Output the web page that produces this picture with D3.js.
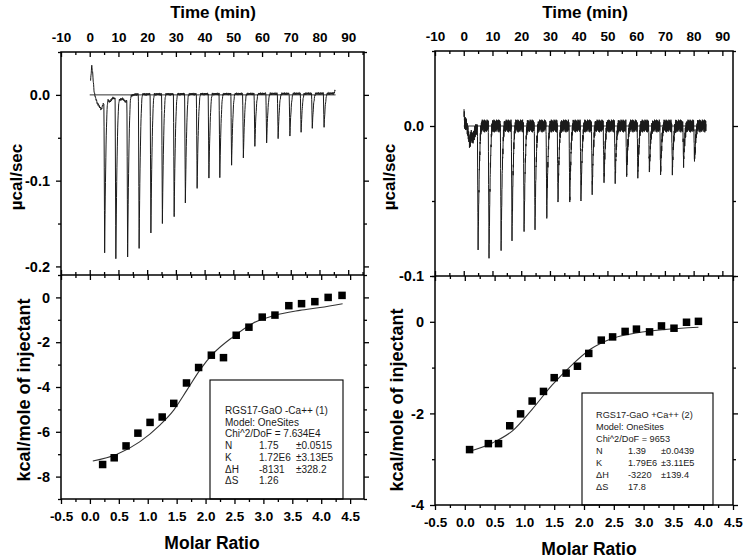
<!DOCTYPE html>
<html><head><meta charset="utf-8">
<script src="https://cdn.jsdelivr.net/npm/d3@7"></script>
<style>body{margin:0;background:#fff}svg{display:block}</style>
</head><body><svg id="c" width="745" height="558"></svg>
<script>
// ---------------- DATA ----------------
const timeTicks = [-10,0,10,20,30,40,50,60,70,80,90];
const timeLabels = ["-10","0","10","20","30","40","50","60","70","80","90"];
const timeMinor = [-5,5,15,25,35,45,55,65,75,85,95];
const molarTicks = [-0.5,0,0.5,1,1.5,2,2.5,3,3.5,4,4.5];
const molarLabels = ["-0.5","0.0","0.5","1.0","1.5","2.0","2.5","3.0","3.5","4.0","4.5"];
const molarMinor = [-0.25,0.25,0.75,1.25,1.75,2.25,2.75,3.25,3.75,4.25,4.75];

const rateTicksL = [0,-0.1,-0.2], rateLabelsL = ["0.0","-0.1","-0.2"], rateMinorL = [0.05,-0.05,-0.15];
const rateTicksR = [0,-0.1], rateLabelsR = ["0.0","-0.1"], rateMinorR = [0.05,-0.05];
const heatTicksL = [0,-2,-4,-6,-8], heatLabelsL = ["0","-2","-4","-6","-8"], heatMinorL = [1,-1,-3,-5,-7,-9];
const heatTicksR = [0,-2,-4], heatLabelsR = ["0","-2","-4"], heatMinorR = [1,-1,-3];

// injection peaks (time of minimum, min value µcal/sec)
const injTimesL = [5.2,9.1,13.2,17.2,21.3,25.3,29.4,33.3,37.4,41.5,45.3,49.4,53.5,57.5,61.6,65.6,69.7,73.6,77.5,81.6];
const peakL = [-0.184,-0.191,-0.189,-0.179,-0.161,-0.150,-0.142,-0.126,-0.109,-0.097,-0.0965,-0.082,-0.0735,-0.060,-0.056,-0.051,-0.048,-0.0436,-0.039,-0.0378];
const injTimesR = [5.0,8.8,13.0,16.8,21.0,24.8,28.9,32.8,36.9,40.8,44.7,48.8,52.7,56.7,60.6,64.6,68.5,72.6,76.5,80.3];
const peakR = [-0.0822,-0.0882,-0.0831,-0.076,-0.0704,-0.0682,-0.0616,-0.0507,-0.0507,-0.050,-0.0442,-0.0378,-0.0367,-0.0338,-0.0333,-0.0307,-0.0318,-0.030,-0.0253,-0.0236];

// baseline drift points [time, value]
const driftL = [[0.3,0.016],[0.7,0.033],[1.0,0.026],[1.5,0.004],[2.0,-0.004],[2.6,-0.010],[3.2,-0.013],[4.0,-0.018],[4.6,-0.012],[6.0,-0.005],[7.0,-0.009],[8.0,-0.004],[10.0,-0.007],[11.5,-0.005],[12.5,-0.009],[14.0,-0.002],[16,0.0],[85,0.001],[85.6,0.006]];
const driftR = [[0.1,0.010],[0.3,0.002],[1.0,0.001],[1.6,-0.006],[2.1,-0.012],[2.6,-0.006],[3.2,-0.009],[4.0,-0.003],[5.5,0.0],[84.3,0.0]];
const noiseL = [0.3,0.8,0.5,-0.2,0.1,0.9,1.0,0.4,-0.3,0.2,0.6,0.7,0.0,-0.4,0.3,0.9,0.5,0.1,-0.2,0.4,0.8,0.2,-0.1,0.6];
const noiseR = [0.3,-0.5,0.8,-0.2,0.6,-0.9,0.1,0.7,-0.4,1.0,-0.6,0.2,-1.0,0.5,-0.3,0.9,-0.7,0.4,-0.1,0.8,-0.8,0.3,-0.5,0.6,0.0,-0.9,0.7,-0.2,0.5,-0.6,1.0,-0.4,0.2,-0.7,0.6,-0.3,0.9];

// integrated heats
const molarL = [0.22,0.42,0.625,0.83,1.04,1.25,1.45,1.67,1.88,2.10,2.31,2.53,2.75,2.98,3.20,3.44,3.66,3.89,4.12,4.36];
const heatL = [-7.46,-7.16,-6.63,-6.06,-5.58,-5.34,-4.73,-3.82,-3.13,-2.58,-2.69,-1.69,-1.33,-0.88,-0.79,-0.37,-0.28,-0.19,0.0,0.09];
const fitXL = [0.05,0.46,0.86,1.21,1.45,1.68,1.91,2.14,2.48,2.82,3.17,3.63,3.98,4.37];
const fitYL = [-7.30,-7.01,-6.45,-5.70,-5.03,-4.13,-3.21,-2.49,-1.75,-1.15,-0.82,-0.58,-0.45,-0.28];
const molarR = [0.08,0.395,0.566,0.754,0.936,1.13,1.32,1.50,1.70,1.89,2.08,2.29,2.48,2.69,2.88,3.10,3.30,3.51,3.72,3.92];
const heatR = [-2.79,-2.66,-2.66,-2.27,-2.01,-1.73,-1.52,-1.22,-1.12,-0.97,-0.69,-0.40,-0.33,-0.21,-0.16,-0.22,-0.09,-0.14,-0.01,0.01];
const fitXR = [0.02,0.47,0.80,1.13,1.46,1.79,2.12,2.46,2.90,3.34,3.92];
const fitYR = [-2.85,-2.64,-2.38,-1.91,-1.39,-0.95,-0.59,-0.37,-0.24,-0.17,-0.12];

const legendHeadL = ["RGS17-GaO -Ca++ (1)","Model: OneSites","Chi^2/DoF = 7.634E4"];
const legendRowsL = [["N","1.75","±0.0515"],["K","1.72E6","±3.13E5"],["ΔH","-8131","±328.2"],["ΔS","1.26",""]];
const legendHeadR = ["RGS17-GaO +Ca++ (2)","Model: OneSites","Chi^2/DoF = 9653"];
const legendRowsR = [["N","1.39","±0.0439"],["K","1.79E6","±3.11E5"],["ΔH","-3220","±139.4"],["ΔS","17.8",""]];

// ---------------- DRAW ----------------
const FONT = '"Liberation Sans", Arial, Helvetica, sans-serif';
const svg = d3.select("#c").style("font-family", FONT);

function driftAt(drift, t) {
  if (t <= drift[0][0]) return drift[0][1];
  for (let i = 1; i < drift.length; i++) {
    if (t <= drift[i][0]) {
      const a = drift[i-1], b = drift[i];
      return a[1] + (b[1]-a[1]) * (t-a[0]) / (b[0]-a[0]);
    }
  }
  return drift[drift.length-1][1];
}

function buildTrace(inj, mins, drift, noise, amp, step) {
  const t0 = drift[0][0], t1 = drift[drift.length-1][0];
  const pts = [];
  const peakVal = (t) => {
    let v = 0;
    inj.forEach((tm, i) => {
      const d = mins[i] - driftAt(drift, tm);
      const dt = t - tm;
      if (dt >= -0.25 && dt < 0) v += d * (dt + 0.25) / 0.25;
      else if (dt >= 0 && dt < 1.3) v += d * Math.pow(1 - dt/1.3, 2.5);
    });
    return v;
  };
  let k = 0;
  for (let t = t0; t <= t1 + 1e-9; t += step, k++) {
    pts.push([t, driftAt(drift, t) + noise[k % noise.length]*amp + peakVal(t)]);
  }
  inj.forEach((tm, i) => pts.push([tm, mins[i]]));
  pts.sort((a, b) => a[0] - b[0]);
  return pts;
}

function addAxis(g, axis, tr, vals, labels, size, pad, fs) {
  const a = axis.tickValues(vals).tickSizeOuter(0).tickSizeInner(size).tickPadding(pad)
    .tickFormat(labels ? ((d, i) => labels[i]) : () => "");
  const s = g.append("g").attr("transform", tr).call(a);
  s.select(".domain").remove();
  s.selectAll(".tick line").attr("stroke", "#000").attr("stroke-width", 1.3);
  s.selectAll("text").attr("fill", "#000").style("font-size", (fs||13.5) + "px")
    .style("font-weight", "bold").style("font-family", FONT);
  return s;
}

function panel(c) {
  const g = svg.append("g");
  const xT = d3.scaleLinear().domain(c.timeDomain).range([c.x0, c.x1]);
  const yT = d3.scaleLinear().domain(c.rateDomain).range([c.yMid, c.yTop]);
  const xM = d3.scaleLinear().domain(c.molarDomain).range([c.x0, c.x1]);
  const yH = d3.scaleLinear().domain(c.heatDomain).range([c.yBot, c.yMid]);
  const inT = v => v >= c.timeDomain[0] && v <= c.timeDomain[1];
  const inM = v => v >= c.molarDomain[0] && v <= c.molarDomain[1] + 1e-9;

  // top plot: reference baseline + trace
  g.append("line").attr("x1", xT(c.baseT[0])).attr("x2", xT(c.baseT[1]))
    .attr("y1", yT(0)).attr("y2", yT(0)).attr("stroke", "#333").attr("stroke-width", 1);
  const tr = buildTrace(c.inj, c.peaks, c.drift, c.noise, c.amp, c.step);
  g.append("path").datum(tr)
    .attr("d", d3.line().x(d => xT(d[0])).y(d => yT(d[1])))
    .attr("fill", "none").attr("stroke", "#1a1a1a").attr("stroke-width", 1).attr("stroke-linejoin", "round");

  // bottom plot: fit + points
  const fit = c.fitX.map((x, i) => [x, c.fitY[i]]);
  g.append("path").datum(fit)
    .attr("d", d3.line().curve(d3.curveMonotoneX).x(d => xM(d[0])).y(d => yH(d[1])))
    .attr("fill", "none").attr("stroke", "#333").attr("stroke-width", 1.1);
  const ms = 7.5;
  g.selectAll("rect.pt").data(c.molar).join("rect").attr("class", "pt")
    .attr("x", (d) => xM(d) - ms/2).attr("y", (d, i) => yH(c.heat[i]) - ms/2)
    .attr("width", ms).attr("height", ms).attr("fill", "#000");

  // legend
  const lg = g.append("g");
  lg.append("rect").attr("x", c.lg.x).attr("y", c.lg.y).attr("width", c.lg.w).attr("height", c.yBot - c.lg.y)
    .attr("fill", "#fff").attr("stroke", "#000").attr("stroke-width", 1.1);
  const lines = c.lgHead.map(s => [s]).concat(c.lgRows);
  lines.forEach((row, i) => {
    const y = c.lg.by + i * c.lg.dy;
    row.forEach((s, j) => {
      if (!s) return;
      lg.append("text").attr("x", c.lg.cols[j]).attr("y", y).text(s)
        .attr("fill", "#1a1a1a").style("font-size", c.lg.fs + "px");
    });
  });

  // frame
  g.append("rect").attr("x", c.x0).attr("y", c.yTop).attr("width", c.x1 - c.x0).attr("height", c.yBot - c.yTop)
    .attr("fill", "none").attr("stroke", "#000").attr("stroke-width", 1.5);
  g.append("line").attr("x1", c.x0).attr("x2", c.x1).attr("y1", c.yMid).attr("y2", c.yMid)
    .attr("stroke", "#000").attr("stroke-width", 1.5);

  // axes top plot
  addAxis(g, d3.axisTop(xT), `translate(0,${c.yTop})`, timeTicks, timeLabels, -5, 10);
  addAxis(g, d3.axisTop(xT), `translate(0,${c.yTop})`, timeMinor.filter(inT), null, -3, 0);
  addAxis(g, d3.axisBottom(xT), `translate(0,${c.yMid})`, timeTicks, null, -5, 0);
  addAxis(g, d3.axisBottom(xT), `translate(0,${c.yMid})`, timeMinor.filter(inT), null, -3, 0);
  addAxis(g, d3.axisLeft(yT), `translate(${c.x0},0)`, c.rateTicks, c.rateLabels, 5, 6, 14.5);
  addAxis(g, d3.axisLeft(yT), `translate(${c.x0},0)`, c.rateMinor, null, 3, 0);
  addAxis(g, d3.axisRight(yT), `translate(${c.x1},0)`, c.rateTicks, null, 5, 0);
  addAxis(g, d3.axisRight(yT), `translate(${c.x1},0)`, c.rateMinor, null, 3, 0);
  // axes bottom plot
  addAxis(g, d3.axisTop(xM), `translate(0,${c.yMid})`, molarTicks, null, -5, 0);
  addAxis(g, d3.axisTop(xM), `translate(0,${c.yMid})`, molarMinor.filter(inM), null, -3, 0);
  addAxis(g, d3.axisBottom(xM), `translate(0,${c.yBot})`, molarTicks, molarLabels, 5, 7);
  addAxis(g, d3.axisBottom(xM), `translate(0,${c.yBot})`, molarMinor.filter(inM), null, 3, 0);
  addAxis(g, d3.axisLeft(yH), `translate(${c.x0},0)`, c.heatTicks, c.heatLabels, 5, 6, 14.5);
  addAxis(g, d3.axisLeft(yH), `translate(${c.x0},0)`, c.heatMinor, null, 3, 0);
  addAxis(g, d3.axisRight(yH), `translate(${c.x1},0)`, c.heatTicks, null, 5, 0);
  addAxis(g, d3.axisRight(yH), `translate(${c.x1},0)`, c.heatMinor, null, 3, 0);

  // titles
  const title = (x, y, s, fs, rot) => {
    const t = g.append("text").text(s).attr("text-anchor", "middle").attr("dy", "0.35em")
      .style("font-size", fs + "px").style("font-weight", "bold").attr("fill", "#000");
    t.attr("transform", `translate(${x},${y})` + (rot ? " rotate(-90)" : ""));
  };
  title(c.tTime[0], c.tTime[1], "Time (min)", 17, false);
  title(c.tMolar[0], c.tMolar[1], "Molar Ratio", 17.5, false);
  title(c.tRate[0], c.tRate[1], "µcal/sec", 17, true);
  title(c.tHeat[0], c.tHeat[1], "kcal/mole of injectant", 18, true);
}

panel({
  x0: 61, x1: 364, yTop: 52, yMid: 275, yBot: 499,
  timeDomain: [-10, 95.5], rateDomain: [-0.21, 0.05], molarDomain: [-0.5, 4.74], heatDomain: [-9, 1],
  rateTicks: rateTicksL, rateLabels: rateLabelsL, rateMinor: rateMinorL,
  heatTicks: heatTicksL, heatLabels: heatLabelsL, heatMinor: heatMinorL,
  inj: injTimesL, peaks: peakL, drift: driftL, noise: noiseL, amp: 0.002, step: 0.07, baseT: [0, 85.6],
  molar: molarL, heat: heatL, fitX: fitXL, fitY: fitYL,
  lgHead: legendHeadL, lgRows: legendRowsL,
  lg: { x: 210, y: 380, w: 133, by: 414, dy: 11.7, cols: [225, 259, 296], fs: 10 },
  tTime: [213, 12], tMolar: [212, 543], tRate: [16, 177], tHeat: [24, 390]
});
panel({
  x0: 435, x1: 733, yTop: 51, yMid: 276, yBot: 505,
  timeDomain: [-10, 93.7], rateDomain: [-0.1, 0.05], molarDomain: [-0.5, 4.5], heatDomain: [-4, 1],
  rateTicks: rateTicksR, rateLabels: rateLabelsR, rateMinor: rateMinorR,
  heatTicks: heatTicksR, heatLabels: heatLabelsR, heatMinor: heatMinorR,
  inj: injTimesR, peaks: peakR, drift: driftR, noise: noiseR, amp: 0.0042, step: 0.045, baseT: [0, 84.3],
  molar: molarR, heat: heatR, fitX: fitXR, fitY: fitYR,
  lgHead: legendHeadR, lgRows: legendRowsR,
  lg: { x: 582, y: 393, w: 131, by: 418, dy: 12, cols: [596, 628, 661], fs: 9.2 },
  tTime: [585, 12], tMolar: [589, 549], tRate: [389, 177], tHeat: [397, 400]
});
</script>
</body></html>
